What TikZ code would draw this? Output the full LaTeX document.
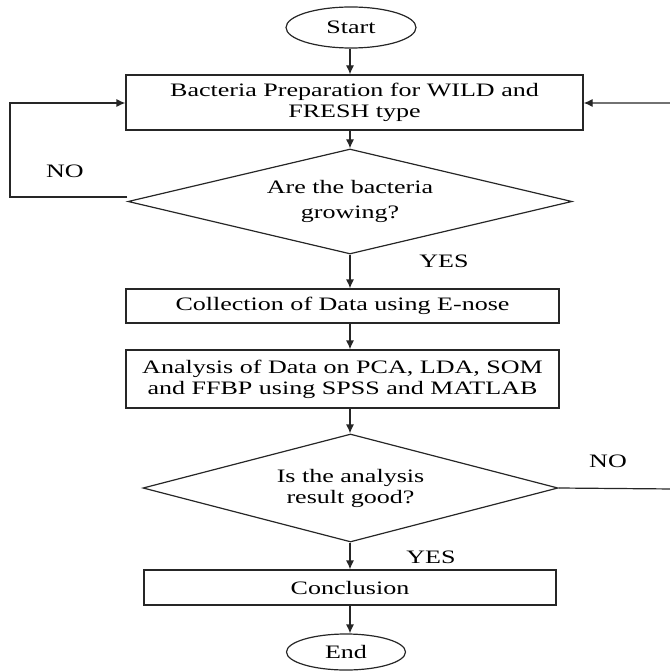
\documentclass[tikz,border=0pt]{standalone}
\usepackage{fontspec}
\setmainfont[FakeStretch=1.37]{Liberation Serif}
\usetikzlibrary{shapes.geometric,arrows.meta}
\begin{document}
\begin{tikzpicture}[x=1pt,y=-1pt,
  every node/.style={font=\fontsize{19}{21}\selectfont},
  ln/.style={line width=1.2pt, draw=black!85},
  boxnode/.style={ln, rectangle, inner sep=0pt, align=center},
  ellnode/.style={ln, ellipse, inner sep=0pt},
  dianode/.style={ln, diamond, inner sep=0pt, align=center, aspect=4},
  arr/.style={ln, -{Latex[length=9pt,width=8pt]}},
  lbl/.style={inner sep=0pt}
]
\useasboundingbox (0,0) rectangle (669,671);
\node[ellnode, minimum width=130pt, minimum height=41pt] (start) at (351,27.5) {Start};
\node[boxnode, minimum width=457pt, minimum height=55pt] (b1) at (354.5,102.5) {Bacteria Preparation for WILD and\\FRESH type};
\node[dianode, minimum width=444pt, minimum height=105pt] (d1) at (350,201.5) {Are the bacteria\\[4pt]growing?};
\node[boxnode, minimum width=433pt, minimum height=34pt] (b2) at (342.5,306) {Collection of Data using E-nose};
\node[boxnode, minimum width=433pt, minimum height=58pt] (b3) at (342.5,379) {Analysis of Data on PCA, LDA, SOM\\and FFBP using SPSS and MATLAB};
\node[dianode, minimum width=415pt, minimum height=108pt] (d2) at (350.5,488) {Is the analysis\\result good?};
\node[boxnode, minimum width=412pt, minimum height=35pt] (b4) at (350,587.5) {Conclusion};
\node[ellnode, minimum width=119pt, minimum height=36pt] (end) at (346,652) {End};

\node[lbl] (no1) at (65,171) {NO};
\node[lbl] (yes1) at (444,261) {YES};
\node[lbl] (no2) at (608,461) {NO};
\node[lbl] (yes2) at (431,557) {YES};

\coordinate (l1) at (10,197);
\coordinate (l2) at (10,103);
\coordinate (r1) at (674,489);
\coordinate (r2) at (674,103);

\draw[arr] (350,0 |- start.south) -- (350,0 |- b1.north);
\draw[arr] (350,0 |- b1.south) -- (d1.north);
\draw[arr] (d1.south) -- (350,0 |- b2.north);
\draw[arr] (350,0 |- b2.south) -- (350,0 |- b3.north);
\draw[arr] (350,0 |- b3.south) -- (d2.north -| 350,0);
\draw[arr] (d2.south -| 350,0) -- (350,0 |- b4.north);
\draw[arr] (350,0 |- b4.south) -- (350,0 |- end.north);
\draw[arr] (d1.west |- l1) -- (l1) -- (l2) -- (b1.west |- l2);
\draw[arr] (d2.east) -- (r1) -- (r2) -- (b1.east |- r2);
\end{tikzpicture}
\end{document}
